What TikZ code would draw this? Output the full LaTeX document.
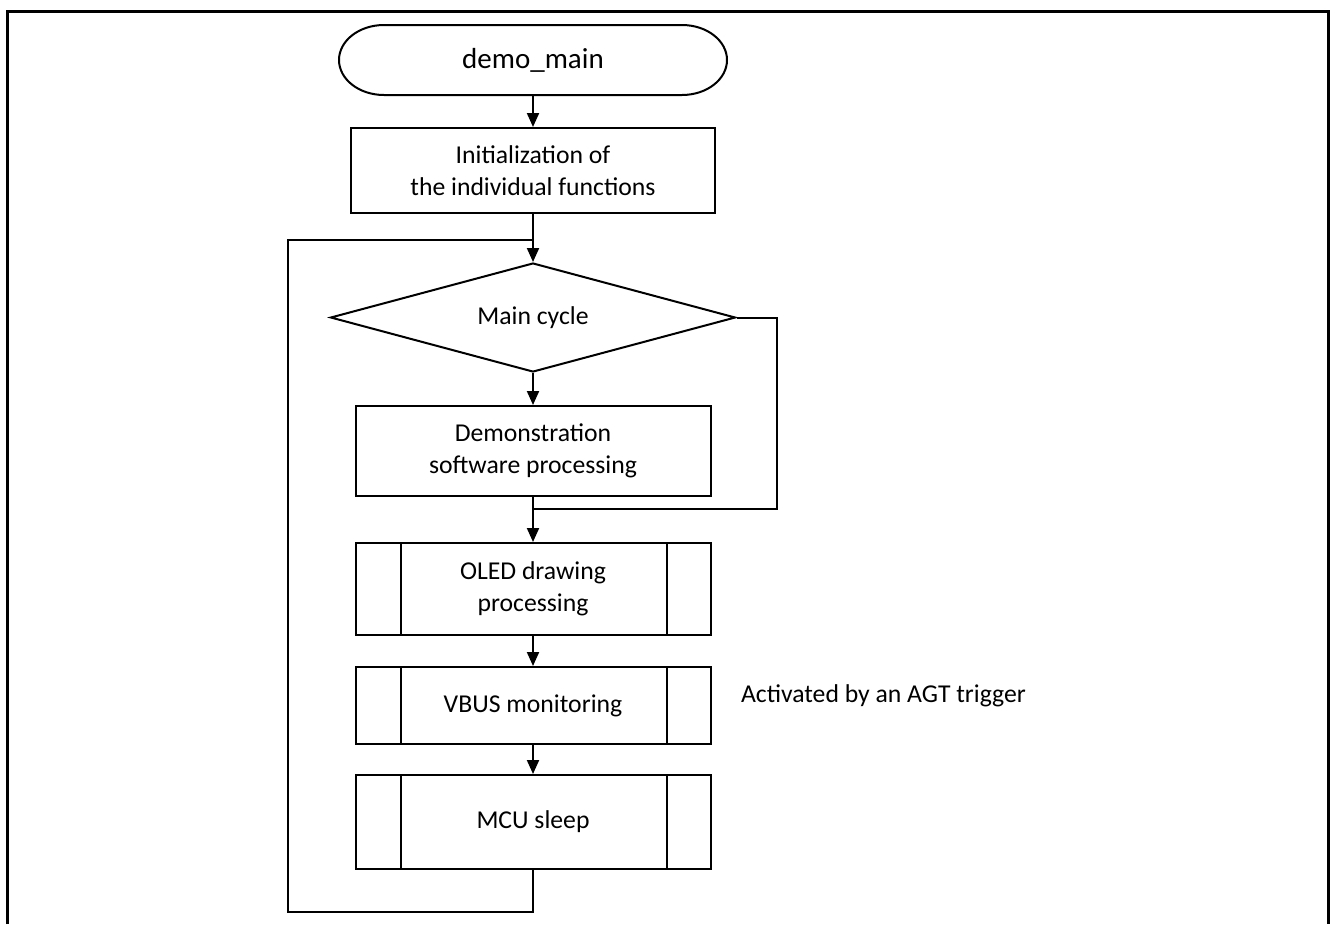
\documentclass[tikz,border=0pt]{standalone}
\usepackage{fontspec}
\setmainfont{Carlito}
\usetikzlibrary{arrows.meta,shapes.geometric}
\begin{document}
\begin{tikzpicture}[x=1pt,y=-1pt,
  line width=2pt,
  every node/.style={font=\fontsize{25.7}{32}\selectfont, align=center, inner sep=0pt},
  procbox/.style={draw, rectangle, minimum width=355pt},
  subbox/.style={procbox, path picture={
      \draw[line width=2pt]
        ([xshift=45pt]path picture bounding box.north west) -- ([xshift=45pt]path picture bounding box.south west)
        ([xshift=-44pt]path picture bounding box.north east) -- ([xshift=-44pt]path picture bounding box.south east);}},
  decision/.style={draw, diamond, shape aspect=4, minimum width=405pt, minimum height=109pt},
  flow/.style={-{Triangle[length=14pt,width=12pt]}},
  line/.style={line width=2pt}
]
\useasboundingbox (0,0) rectangle (1330,924);

% outer frame
\draw[line width=3pt] (7,924) -- (7,11) -- (1328,11) -- (1328,924);

% start terminator: straight top and bottom, half-elliptical ends
\draw (384,25) -- (682,25)
  .. controls (706.85,25) and (727,40.67) .. (727,60)
  .. controls (727,79.33) and (706.85,95) .. (682,95)
  -- (384,95)
  .. controls (359.15,95) and (339,79.33) .. (339,60)
  .. controls (339,40.67) and (359.15,25) .. (384,25) -- cycle;
\node[minimum width=388pt, minimum height=70pt, font=\fontsize{29}{34}\selectfont] (term) at (533,60) {demo\_main};

% process steps
\node[procbox, minimum width=364pt, minimum height=85pt] (init) at (533,170.5) {Initialization of\\the individual functions};
\node[decision] (maincyc) at (533,317.5) {Main cycle};
\node[procbox, minimum height=90pt] (demo) at (533,451) {Demonstration\\software processing};
\node[subbox, minimum height=92pt] (oled) at (533,589) {OLED drawing\\processing};
\node[subbox, minimum height=77pt] (vbus) at (533,705.5) {VBUS monitoring};
\node[subbox, minimum height=94pt] (mcu) at (533,822) {MCU sleep};

\node[anchor=west] (note) at (740,696) {Activated by an AGT trigger};

% junction points
\coordinate (join) at (533,240);
\coordinate (merge) at (533,509);
\coordinate (rtop) at (777,317.5);
\coordinate (rbot) at (777,509);
\coordinate (lbr) at (533,912);
\coordinate (lbl) at (288,912);
\coordinate (ltl) at (288,240);

% connectors
\draw[flow] (term.south) -- (init.north);
\draw[flow] (init.south) -- (maincyc.north);
\draw[flow] (maincyc.south) -- (demo.north);
\draw[flow] (demo.south) -- (oled.north);
\draw[line] (maincyc.east) -- (rtop) -- (rbot) -- (merge);
\draw[flow] (oled.south) -- (vbus.north);
\draw[flow] (vbus.south) -- (mcu.north);
\draw[line] (mcu.south) -- (lbr) -- (lbl) -- (ltl) -- (join);
\end{tikzpicture}
\end{document}
